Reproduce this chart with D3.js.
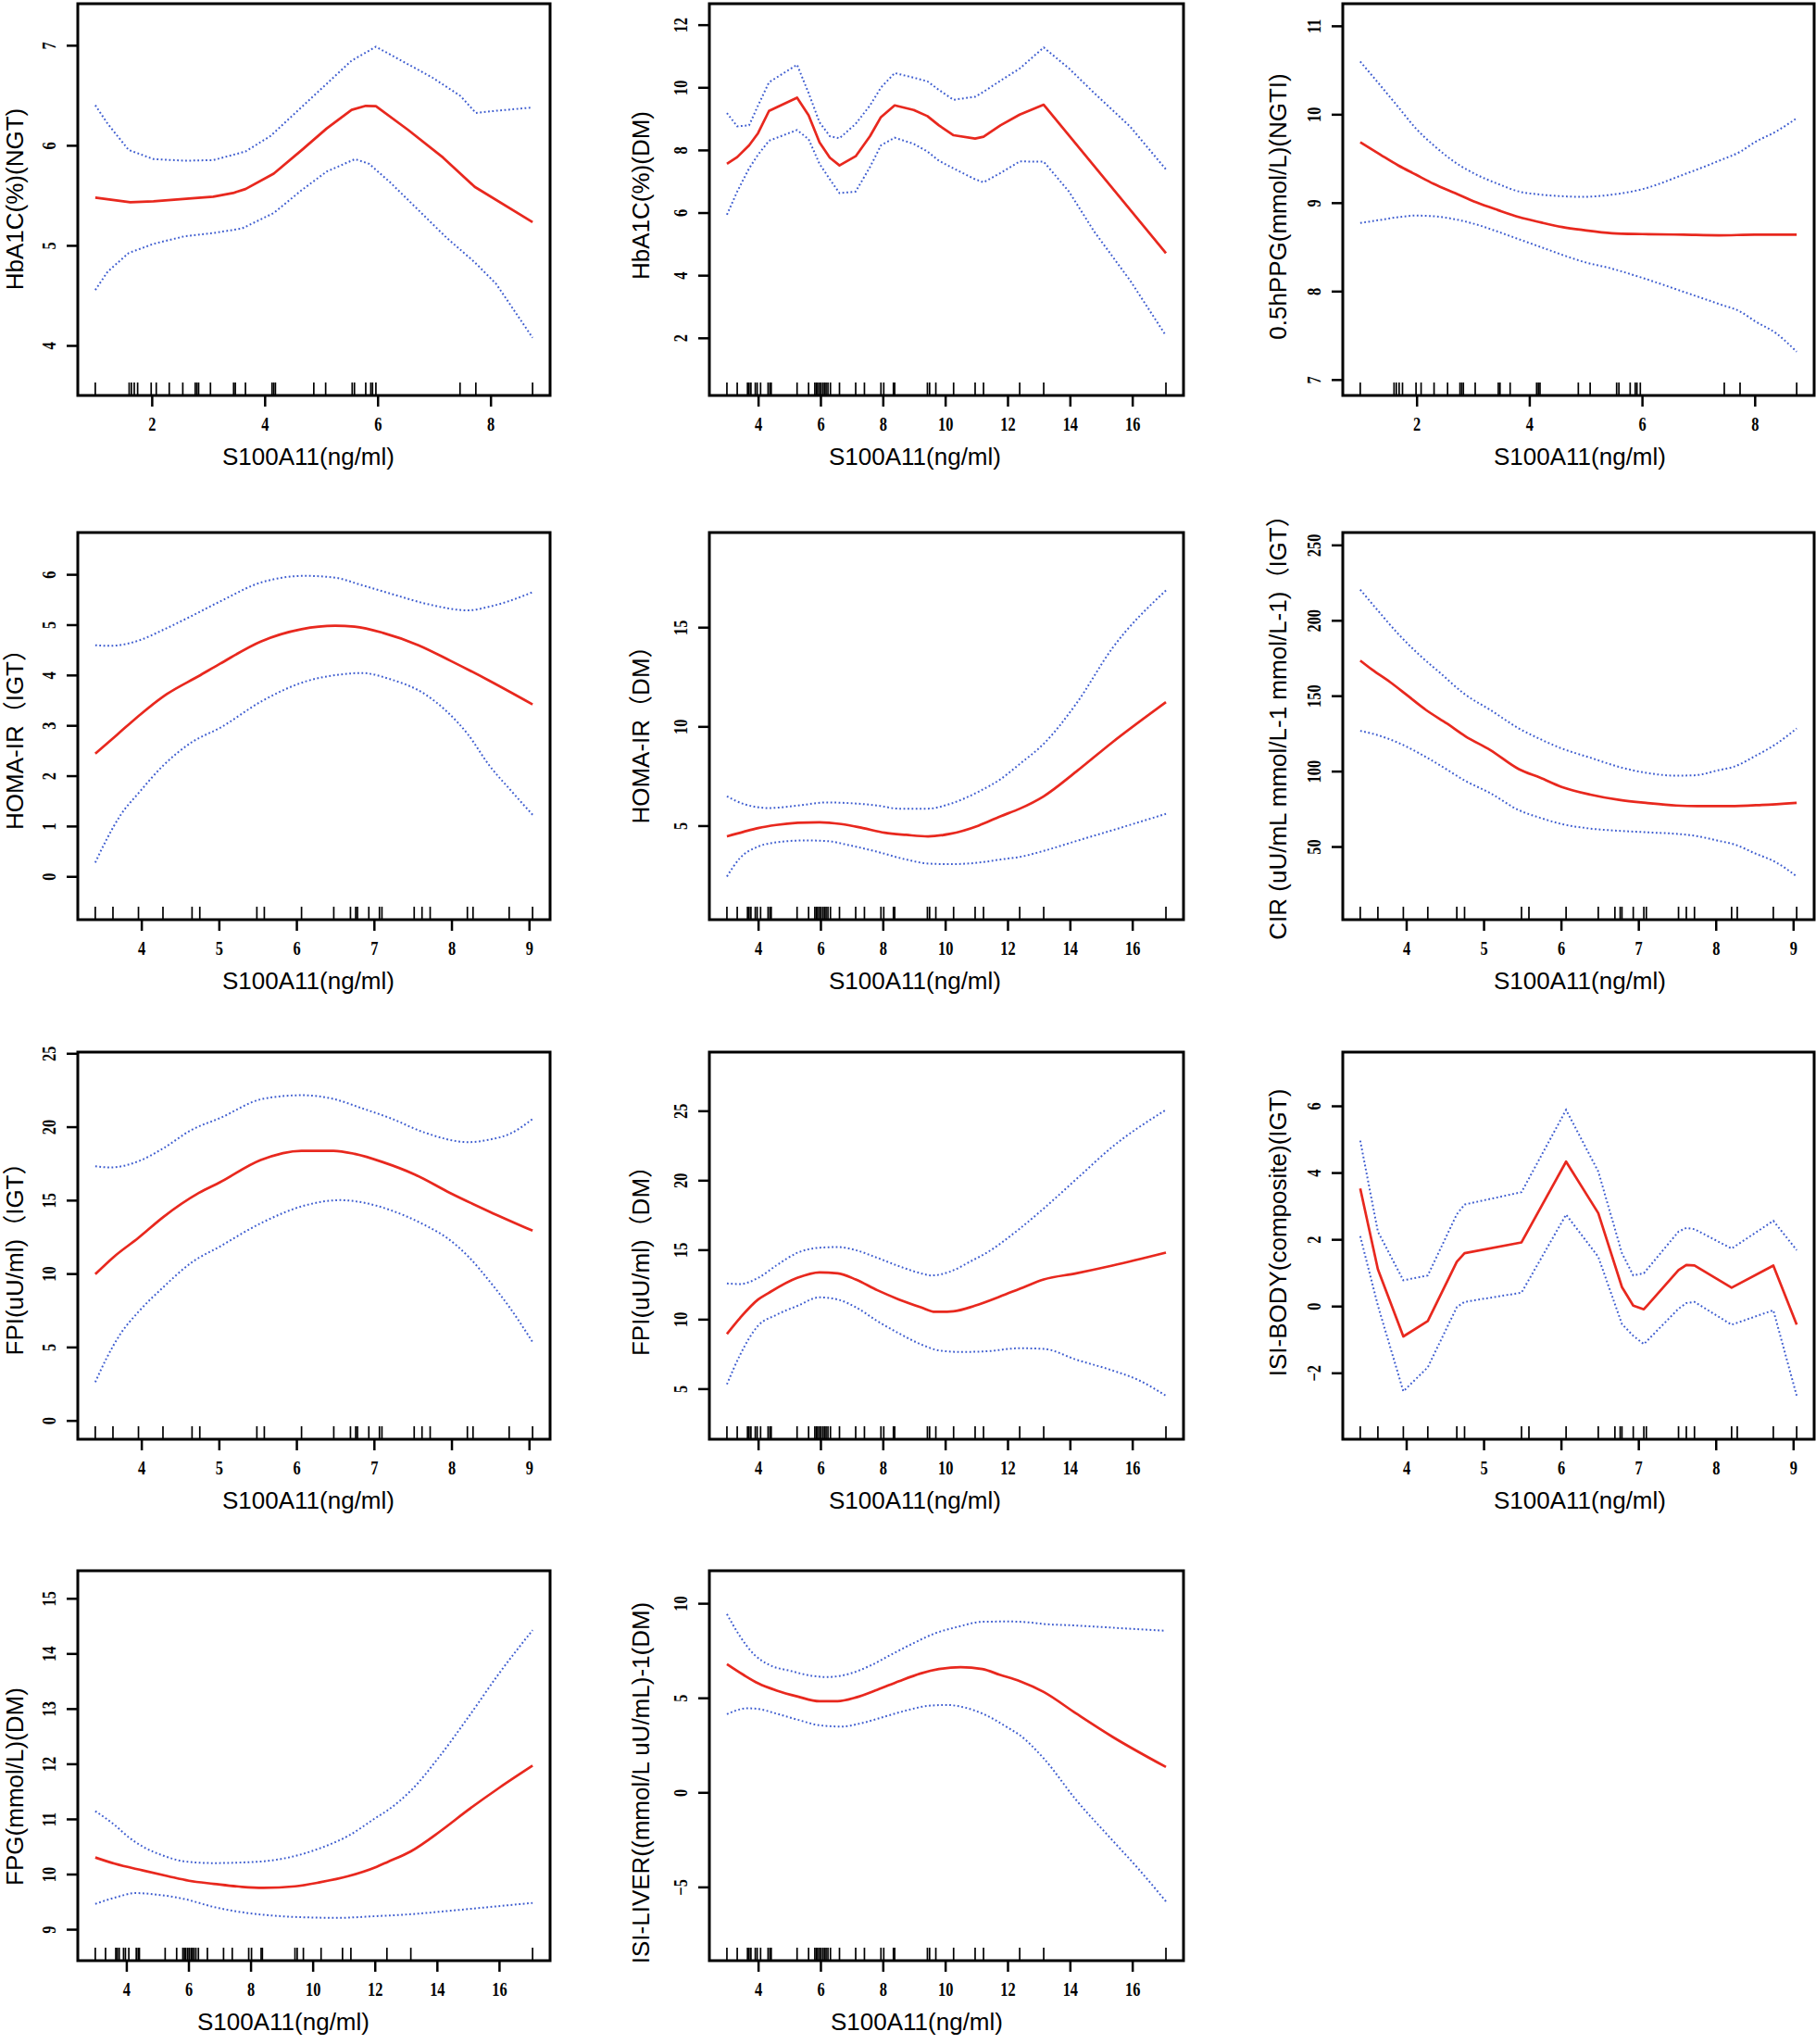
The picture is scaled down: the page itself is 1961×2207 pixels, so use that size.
<!DOCTYPE html>
<html><head><meta charset="utf-8">
<script src="https://cdn.jsdelivr.net/npm/d3@7"></script>
<style>
html,body{margin:0;padding:0;background:#fff;}
svg{display:block;}
</style></head><body>
<svg id="chart" width="1961" height="2207"></svg>
<script>
// ---------- rug data (S100A11, ng/ml) ----------
const rugNGT = [1.0,1.60,1.64,1.69,1.75,1.99,2.08,2.31,2.55,2.77,2.80,2.83,3.04,3.45,3.48,3.66,4.13,4.16,4.19,4.87,5.08,5.55,5.59,5.79,5.88,5.91,5.97,7.46,7.74,8.745];
const rugIGT = [3.406,3.634,3.963,4.279,4.654,4.754,5.49,5.586,6.066,6.482,6.697,6.765,6.788,6.934,7.071,7.103,7.519,7.62,7.725,8.205,8.278,8.744,9.046];
const rugDM = [3.0,3.33,3.66,3.71,3.77,3.91,3.97,4.08,4.32,4.38,4.42,5.25,5.62,5.82,5.87,5.91,5.97,6.02,6.08,6.13,6.18,6.24,6.32,6.61,7.13,7.41,7.94,8.03,8.34,8.38,9.43,9.50,9.70,10.27,10.96,11.23,12.39,13.16,17.08];

// ---------- axis titles and ticks ----------
const xTitle = "S100A11(ng/ml)";
const yTitles = ["HbA1C(%)(NGT)","HbA1C(%)(DM)","0.5hPPG(mmol/L)(NGTI)","HOMA-IR（IGT）","HOMA-IR（DM）","CIR (uU/mL mmol/L-1 mmol/L-1)（IGT）","FPI(uU/ml)（IGT）","FPI(uU/ml)（DM）","ISI-BODY(composite)(IGT)","FPG(mmol/L)(DM)","ISI-LIVER((mmol/L uU/mL)-1(DM)"];
const xTicksNGT = [2,4,6,8];
const xTicksIGT = [4,5,6,7,8,9];
const xTicksDM = [4,6,8,10,12,14,16];
const yTicks = [[4,5,6,7],[2,4,6,8,10,12],[7,8,9,10,11],[0,1,2,3,4,5,6],[5,10,15],[50,100,150,200,250],[0,5,10,15,20,25],[5,10,15,20,25],[-2,0,2,4,6],[9,10,11,12,13,14,15],[-5,0,5,10]];
const yLims = [[3.50,7.415],[0.16,12.67],[6.82,11.25],[-0.86,6.83],[0.26,19.77],[1.5,258.2],[-1.28,25.08],[1.36,29.22],[-3.99,7.61],[8.43,15.5],[-8.9,11.72]];

// ---------- curves: [x, value] ----------
const hba1cNgtFit = [[1.0,5.477],[1.62,5.431],[2.03,5.44],[2.66,5.468],[3.09,5.486],[3.44,5.523],[3.66,5.563],[4.16,5.717],[4.66,5.954],[5.10,6.169],[5.54,6.354],[5.79,6.394],[5.97,6.391],[6.54,6.154],[7.16,5.877],[7.72,5.585],[8.745,5.231]];
const hba1cNgtUpper = [[1.0,6.40],[1.22,6.215],[1.59,5.954],[2.03,5.862],[2.59,5.846],[3.09,5.852],[3.66,5.938],[4.10,6.092],[4.60,6.354],[5.10,6.615],[5.54,6.846],[5.97,6.985],[6.47,6.831],[6.97,6.677],[7.47,6.492],[7.74,6.323],[8.10,6.345],[8.745,6.378]];
const hba1cNgtLower = [[1.0,4.554],[1.22,4.738],[1.59,4.923],[2.03,5.015],[2.59,5.092],[3.09,5.123],[3.60,5.169],[4.16,5.323],[4.66,5.554],[5.10,5.738],[5.60,5.862],[5.85,5.815],[6.22,5.631],[6.72,5.354],[7.22,5.077],[7.72,4.831],[8.10,4.615],[8.745,4.077]];

const hba1cDmFit = [[3.0,7.556],[3.33,7.772],[3.71,8.146],[4.0,8.539],[4.35,9.247],[5.25,9.670],[5.62,9.109],[5.97,8.244],[6.30,7.752],[6.61,7.506],[7.13,7.80],[7.59,8.44],[7.94,9.05],[8.38,9.424],[8.99,9.276],[9.43,9.08],[9.80,8.785],[10.27,8.47],[10.96,8.362],[11.23,8.421],[11.77,8.785],[12.39,9.129],[13.16,9.443],[17.08,4.704]];
const hba1cDmUpper = [[3.0,9.178],[3.33,8.755],[3.71,8.785],[4.0,9.424],[4.35,10.161],[5.25,10.722],[5.62,9.817],[5.97,8.883],[6.30,8.44],[6.61,8.372],[7.13,8.834],[7.59,9.424],[7.94,9.994],[8.38,10.456],[8.99,10.309],[9.43,10.191],[9.80,9.915],[10.27,9.601],[10.96,9.699],[11.23,9.856],[11.77,10.21],[12.39,10.60],[13.16,11.272],[13.97,10.604],[14.78,9.817],[15.94,8.736],[17.08,7.379]];
const hba1cDmLower = [[3.0,5.933],[3.33,6.671],[3.71,7.408],[4.0,7.851],[4.35,8.294],[5.25,8.637],[5.62,8.342],[5.97,7.556],[6.30,7.064],[6.61,6.621],[7.13,6.671],[7.59,7.457],[7.94,8.146],[8.38,8.391],[8.99,8.195],[9.43,7.949],[9.80,7.654],[10.27,7.408],[10.96,7.064],[11.23,6.966],[11.77,7.261],[12.39,7.634],[13.16,7.624],[13.97,6.671],[14.78,5.392],[15.94,3.819],[17.08,2.069]];

const ppgNgtFit = [[1.0,9.683],[1.354,9.544],[1.671,9.422],[1.987,9.317],[2.304,9.213],[2.684,9.108],[3.063,9.003],[3.443,8.916],[3.823,8.836],[4.203,8.777],[4.582,8.725],[4.962,8.69],[5.468,8.655],[6.006,8.645],[6.734,8.638],[7.367,8.631],[8.0,8.638],[8.745,8.638]];
const ppgNgtUpper = [[1.0,10.596],[1.354,10.328],[1.671,10.084],[1.987,9.84],[2.304,9.648],[2.684,9.456],[3.063,9.317],[3.443,9.213],[3.823,9.125],[4.203,9.091],[4.582,9.073],[4.962,9.066],[5.468,9.091],[6.006,9.153],[6.734,9.317],[7.367,9.474],[7.747,9.578],[8.0,9.683],[8.38,9.805],[8.745,9.955]];
const ppgNgtLower = [[1.0,8.770],[1.354,8.805],[1.671,8.836],[1.987,8.854],[2.304,8.847],[2.684,8.812],[3.063,8.753],[3.443,8.672],[3.823,8.585],[4.203,8.498],[4.582,8.411],[4.962,8.331],[5.468,8.254],[6.006,8.15],[6.734,7.993],[7.367,7.854],[7.747,7.767],[8.0,7.662],[8.38,7.523],[8.745,7.314]];

const homaIgtFit = [[3.406,2.436],[3.689,2.816],[4.009,3.244],[4.329,3.62],[4.74,3.979],[5.015,4.224],[5.54,4.665],[6.066,4.91],[6.50,4.977],[6.751,4.959],[7.117,4.837],[7.574,4.592],[7.985,4.285],[8.488,3.887],[9.046,3.416]];
const homaIgtUpper = [[3.406,4.592],[3.598,4.579],[3.963,4.683],[4.283,4.898],[4.649,5.173],[5.015,5.461],[5.563,5.847],[6.112,5.969],[6.477,5.939],[6.843,5.786],[7.208,5.62],[7.665,5.418],[8.214,5.284],[8.488,5.357],[8.762,5.479],[9.046,5.645]];
const homaIgtLower = [[3.406,0.274],[3.552,0.734],[3.735,1.224],[3.963,1.652],[4.283,2.203],[4.649,2.663],[5.015,2.95],[5.563,3.489],[6.112,3.869],[6.569,4.01],[6.843,4.04],[7.208,3.918],[7.665,3.612],[7.94,3.275],[8.214,2.816],[8.488,2.203],[8.762,1.713],[9.046,1.224]];

const homaDmFit = [[3.0,4.456],[3.536,4.689],[4.0,4.876],[4.58,5.031],[5.275,5.14],[5.971,5.171],[6.667,5.078],[7.362,4.876],[8.058,4.642],[8.754,4.533],[9.449,4.456],[10.145,4.58],[11.072,5.0],[11.768,5.467],[12.394,5.855],[13.159,6.478],[14.203,7.722],[15.362,9.201],[17.08,11.221]];
const homaDmUpper = [[3.0,6.477],[3.536,6.089],[4.348,5.886],[5.275,6.011],[6.203,6.166],[6.899,6.135],[7.826,6.011],[8.522,5.855],[9.449,5.855],[10.145,6.089],[11.072,6.711],[11.768,7.333],[12.394,8.11],[13.159,9.121],[14.203,11.143],[15.362,13.942],[17.08,16.851]];
const homaDmLower = [[3.0,2.434],[3.42,3.367],[4.0,3.942],[4.696,4.176],[5.507,4.253],[6.203,4.222],[6.899,4.02],[7.826,3.678],[8.754,3.289],[9.449,3.087],[10.145,3.056],[11.072,3.134],[11.768,3.289],[12.464,3.445],[13.159,3.725],[14.203,4.222],[15.362,4.767],[17.08,5.591]];

const cirIgtFit = [[3.406,173.3],[3.561,167.2],[3.792,159.0],[4.0,150.8],[4.254,140.6],[4.531,131.4],[4.762,123.2],[5.086,114.0],[5.456,101.3],[5.733,95.6],[6.01,89.5],[6.38,84.4],[6.75,80.9],[7.119,78.8],[7.489,77.2],[7.766,76.8],[8.182,76.8],[8.598,77.6],[9.046,79.0]];
const cirIgtUpper = [[3.406,220.3],[3.607,208.1],[3.884,191.7],[4.162,177.4],[4.439,165.1],[4.762,150.8],[5.086,140.6],[5.456,128.3],[5.733,121.2],[6.01,115.0],[6.38,108.9],[6.75,102.8],[7.119,98.7],[7.489,97.0],[7.72,97.2],[8.043,100.7],[8.228,102.8],[8.506,109.9],[8.783,118.1],[9.046,128.3]];
const cirIgtLower = [[3.406,126.7],[3.607,124.2],[3.884,119.1],[4.162,112.0],[4.439,103.8],[4.762,93.6],[5.086,85.4],[5.456,74.1],[5.733,69.0],[6.01,64.9],[6.38,61.9],[6.75,60.4],[7.119,59.4],[7.489,58.4],[7.72,57.2],[8.043,53.7],[8.228,51.6],[8.506,45.5],[8.783,39.4],[9.046,30.2]];

const fpiIgtFit = [[3.406,9.958],[3.644,11.134],[3.963,12.437],[4.283,13.85],[4.74,15.483],[5.015,16.218],[5.54,17.731],[6.066,18.361],[6.477,18.361],[6.751,18.151],[7.117,17.584],[7.528,16.744],[7.985,15.483],[8.488,14.223],[9.046,12.92]];
const fpiIgtUpper = [[3.406,17.311],[3.598,17.227],[3.963,17.647],[4.283,18.529],[4.649,19.79],[5.015,20.588],[5.563,21.891],[6.066,22.143],[6.477,21.891],[6.843,21.261],[7.208,20.588],[7.665,19.58],[8.214,18.95],[8.488,19.118],[8.762,19.538],[9.046,20.525]];
const fpiIgtLower = [[3.406,2.605],[3.552,4.244],[3.735,5.924],[3.963,7.395],[4.283,9.076],[4.649,10.756],[5.015,11.849],[5.563,13.487],[6.112,14.643],[6.569,15.0],[6.843,14.853],[7.208,14.328],[7.665,13.277],[7.94,12.437],[8.214,11.176],[8.488,9.496],[8.762,7.605],[9.046,5.336]];

const fpiDmFit = [[3.0,8.929],[3.42,10.083],[4.0,11.415],[4.348,11.903],[5.252,12.969],[5.971,13.368],[6.551,13.302],[7.13,12.858],[7.826,12.081],[8.522,11.415],[9.217,10.86],[9.681,10.527],[10.261,10.572],[10.957,10.971],[11.768,11.637],[12.394,12.192],[13.159,12.858],[14.203,13.302],[15.362,13.857],[17.08,14.789]];
const fpiDmUpper = [[3.0,12.569],[3.42,12.525],[4.0,12.969],[4.58,13.857],[5.275,14.789],[5.971,15.144],[6.551,15.189],[7.13,14.967],[7.826,14.412],[8.522,13.812],[9.217,13.302],[9.565,13.147],[10.145,13.413],[10.841,14.19],[11.304,14.745],[12.394,16.52],[13.159,17.963],[14.203,20.072],[15.362,22.403],[17.08,25.067]];
const fpiDmLower = [[3.0,5.311],[3.42,7.42],[4.0,9.529],[4.58,10.305],[5.275,10.971],[5.971,11.57],[6.551,11.415],[7.13,10.86],[7.826,9.861],[8.522,8.973],[9.217,8.196],[9.797,7.752],[10.493,7.641],[11.304,7.686],[12.394,7.908],[13.159,7.864],[14.203,7.087],[15.362,6.31],[16.174,5.644],[17.08,4.49]];

const isiBodyIgtFit = [[3.406,3.524],[3.634,1.104],[3.963,-0.910],[4.279,-0.448],[4.654,1.326],[4.754,1.584],[5.49,1.908],[6.066,4.328],[6.482,2.785],[6.788,0.568],[6.934,0.014],[7.071,-0.097],[7.519,1.076],[7.62,1.233],[7.725,1.215],[8.205,0.55],[8.744,1.215],[9.046,-0.559]];
const isiBodyIgtUpper = [[3.406,4.956],[3.634,2.231],[3.963,0.771],[4.279,0.919],[4.654,2.75],[4.754,3.044],[5.49,3.413],[6.066,5.88],[6.482,4.032],[6.788,1.584],[6.934,0.919],[7.071,0.984],[7.519,2.231],[7.62,2.342],[7.725,2.305],[8.205,1.723],[8.744,2.554],[9.046,1.677]];
const isiBodyIgtLower = [[3.406,2.092],[3.634,0.014],[3.963,-2.554],[4.279,-1.834],[4.654,-0.032],[4.754,0.125],[5.49,0.402],[6.066,2.739],[6.482,1.473],[6.788,-0.54],[6.934,-0.891],[7.071,-1.141],[7.519,-0.079],[7.62,0.088],[7.725,0.125],[8.205,-0.559],[8.744,-0.125],[9.046,-2.684]];

const fpgDmFit = [[3.0,10.30],[3.624,10.188],[4.536,10.065],[5.333,9.963],[6.017,9.879],[6.815,9.823],[7.726,9.767],[8.41,9.75],[9.436,9.778],[10.234,9.851],[11.145,9.963],[12.057,10.132],[12.399,10.216],[13.16,10.412],[14.108,10.777],[15.02,11.169],[16.0,11.562],[17.08,11.966]];
const fpgDmUpper = [[3.0,11.141],[3.624,10.889],[4.08,10.665],[4.536,10.496],[5.219,10.328],[5.903,10.227],[6.815,10.199],[7.954,10.216],[8.638,10.244],[9.436,10.328],[10.234,10.468],[11.145,10.693],[12.057,11.029],[12.444,11.169],[13.197,11.534],[14.108,12.151],[15.02,12.852],[16.0,13.637],[17.08,14.422]];
const fpgDmLower = [[3.0,9.459],[3.624,9.571],[4.308,9.655],[4.991,9.627],[5.903,9.543],[6.815,9.403],[7.726,9.307],[8.638,9.251],[9.664,9.217],[10.803,9.206],[11.943,9.234],[13.197,9.274],[14.336,9.33],[15.704,9.403],[17.08,9.476]];

const isiLiverDmFit = [[3.0,6.781],[3.536,6.209],[4.0,5.768],[4.58,5.392],[5.275,5.065],[5.971,4.82],[6.551,4.82],[7.13,5.016],[7.826,5.425],[8.522,5.882],[9.217,6.291],[9.797,6.52],[10.493,6.618],[11.188,6.52],[11.768,6.209],[12.394,5.882],[13.159,5.31],[14.203,4.167],[15.362,2.941],[17.08,1.34]];
const isiLiverDmUpper = [[3.0,9.428],[3.42,8.252],[3.884,7.271],[4.348,6.748],[5.043,6.422],[5.739,6.160],[6.203,6.095],[6.899,6.258],[7.594,6.699],[8.29,7.304],[8.986,7.892],[9.681,8.415],[10.377,8.742],[11.188,9.020],[12.0,9.036],[12.696,8.987],[13.159,8.905],[14.203,8.824],[15.362,8.709],[17.08,8.546]];
const isiLiverDmLower = [[3.0,4.134],[3.652,4.444],[4.0,4.412],[4.58,4.167],[5.275,3.84],[5.971,3.546],[6.667,3.480],[7.362,3.676],[8.058,4.003],[8.754,4.33],[9.449,4.575],[10.029,4.624],[10.609,4.493],[11.304,4.085],[12.0,3.431],[12.394,3.023],[13.159,1.797],[14.203,-0.408],[15.362,-2.533],[16.174,-4.003],[17.08,-5.768]];

// ---------- panel table built from the arrays ----------
const panels = [
  {rug: rugNGT, xt: xTicksNGT, fit: hba1cNgtFit, up: hba1cNgtUpper, lo: hba1cNgtLower, linear: true},
  {rug: rugDM,  xt: xTicksDM,  fit: hba1cDmFit,  up: hba1cDmUpper,  lo: hba1cDmLower,  linear: true},
  {rug: rugNGT, xt: xTicksNGT, fit: ppgNgtFit,   up: ppgNgtUpper,   lo: ppgNgtLower},
  {rug: rugIGT, xt: xTicksIGT, fit: homaIgtFit,  up: homaIgtUpper,  lo: homaIgtLower},
  {rug: rugDM,  xt: xTicksDM,  fit: homaDmFit,   up: homaDmUpper,   lo: homaDmLower},
  {rug: rugIGT, xt: xTicksIGT, fit: cirIgtFit,   up: cirIgtUpper,   lo: cirIgtLower},
  {rug: rugIGT, xt: xTicksIGT, fit: fpiIgtFit,   up: fpiIgtUpper,   lo: fpiIgtLower},
  {rug: rugDM,  xt: xTicksDM,  fit: fpiDmFit,    up: fpiDmUpper,    lo: fpiDmLower},
  {rug: rugIGT, xt: xTicksIGT, fit: isiBodyIgtFit, up: isiBodyIgtUpper, lo: isiBodyIgtLower, linear: true},
  {rug: rugDM,  xt: xTicksDM,  fit: fpgDmFit,    up: fpgDmUpper,    lo: fpgDmLower},
  {rug: rugDM,  xt: xTicksDM,  fit: isiLiverDmFit, up: isiLiverDmUpper, lo: isiLiverDmLower}
].map((p, i) => Object.assign(p, {title: yTitles[i], yt: yTicks[i], ylim: yLims[i]}));

// ---------- layout (pixels) ----------
const colBox = [[84,594],[766,1278],[1450,1959]];
const rowBox = [[4,427],[575,993],[1136,1554],[1696,2117]];
const yTitleBase = [25, 701, 1389];
const yTitleMid = [215, 211, 223, 792, 787, 779, 1353, 1355, 1331, 1929, 1925];
const xTitleMid = [333, 988, 1706, 333, 988, 1706, 333, 988, 1706, 306, 990];

const RED = "#e8281e", BLUE = "#3d5ccf";
const SANS = "'Liberation Sans', Arial, 'Noto Sans CJK SC', sans-serif";
const SERIF = "'Liberation Serif', 'Times New Roman', serif";
const fmt = d => (d < 0 ? "\u2212" + (-d) : String(d));

const svg = d3.select("#chart");
svg.append("rect").attr("width", 1961).attr("height", 2207).attr("fill", "#fff");

panels.forEach((p, i) => {
  const r = Math.floor(i / 3), c = i % 3;
  const [x0, x1] = colBox[c], [y0, y1] = rowBox[r];
  const [mn, mx] = d3.extent(p.rug);
  const pad = 0.04 * (mx - mn);
  const x = d3.scaleLinear().domain([mn - pad, mx + pad]).range([x0, x1]);
  const y = d3.scaleLinear().domain(p.ylim).range([y1, y0]);
  const g = svg.append("g");

  // rug
  g.selectAll("line.rug").data(p.rug).join("line").attr("class", "rug")
    .attr("x1", d => x(d)).attr("x2", d => x(d))
    .attr("y1", y1).attr("y2", y1 - 14)
    .attr("stroke", "#000").attr("stroke-width", 1.7);

  const line = d3.line().x(d => x(d[0])).y(d => y(d[1]))
    .curve(p.linear ? d3.curveLinear : d3.curveMonotoneX);

  [p.up, p.lo].forEach(s => {
    g.append("path").datum(s).attr("d", line).attr("fill", "none")
      .attr("stroke", BLUE).attr("stroke-width", 2)
      .attr("stroke-dasharray", "1.8,2.6");
  });
  g.append("path").datum(p.fit).attr("d", line).attr("fill", "none")
    .attr("stroke", RED).attr("stroke-width", 2.7)
    .attr("stroke-linejoin", "round");

  // frame
  g.append("rect").attr("x", x0).attr("y", y0)
    .attr("width", x1 - x0).attr("height", y1 - y0)
    .attr("fill", "none").attr("stroke", "#000").attr("stroke-width", 3);

  // x axis
  const xa = g.append("g").attr("transform", `translate(0,${y1})`)
    .call(d3.axisBottom(x).tickValues(p.xt).tickSize(12).tickFormat(fmt));
  xa.select(".domain").remove();
  xa.selectAll(".tick line").attr("stroke", "#000").attr("stroke-width", 2.5);
  xa.selectAll(".tick text")
    .attr("y", 0).attr("dy", null)
    .attr("transform", "translate(0,38) scale(0.78,1)")
    .attr("text-anchor", "middle")
    .attr("font-family", SERIF).attr("font-size", 21).attr("font-weight", "bold").attr("fill", "#000");

  // y axis
  const ya = g.append("g").attr("transform", `translate(${x0},0)`)
    .call(d3.axisLeft(y).tickValues(p.yt).tickSize(12).tickFormat(fmt));
  ya.select(".domain").remove();
  ya.selectAll(".tick line").attr("stroke", "#000").attr("stroke-width", 2.5);
  ya.selectAll(".tick text")
    .attr("x", 0).attr("dy", null)
    .attr("text-anchor", "middle")
    .attr("transform", "translate(-24,0) rotate(-90) scale(0.78,1)")
    .attr("font-family", SERIF).attr("font-size", 21).attr("font-weight", "bold").attr("fill", "#000");

  // titles
  svg.append("text")
    .attr("transform", `translate(${yTitleBase[c]},${yTitleMid[i]}) rotate(-90)`)
    .attr("text-anchor", "middle")
    .attr("font-family", SANS).attr("font-size", 26).attr("fill", "#000")
    .text(p.title);
  svg.append("text")
    .attr("x", xTitleMid[i]).attr("y", y1 + 75)
    .attr("text-anchor", "middle")
    .attr("font-family", SANS).attr("font-size", 26).attr("fill", "#000")
    .text(xTitle);
});
</script>
</body></html>
